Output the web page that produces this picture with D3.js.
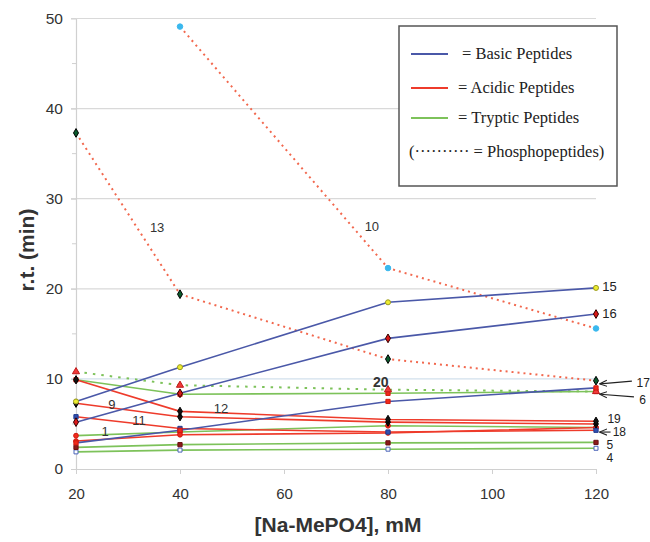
<!DOCTYPE html>
<html>
<head>
<meta charset="utf-8">
<script src="https://cdn.jsdelivr.net/npm/d3@7"></script>
<style>
  body { margin: 0; background: #fff; }
  svg { display: block; }
</style>
</head>
<body>
<div id="chart"></div>
<script>
// sodium methylphosphonate concentrations (mM)
const concentrations = [20, 40, 80, 120];

// retention times (min), basic peptides
const basic15 = [7.5, 11.3, 18.5, 20.1];
const basic16 = [5.2, 8.4, 14.5, 17.2];
const basic1 = [2.9, 4.3, 7.5, 9.0];

// acidic peptides
const acidic12 = [9.9, 6.4, 5.5, 5.3];
const acidic9 = [7.3, 5.8, 5.2, 5.0];
const acidic11 = [5.8, 4.5, 4.1, 4.3];
const acidic18 = [3.1, 3.8, 4.0, 4.6];
const phospho13 = [37.3, 19.4, 12.2, 9.8];
const phospho10 = [null, 49.1, 22.3, 15.6];

// tryptic peptides
const tryptic6 = [9.9, 8.3, 8.4, 8.6];
const phospho20 = [10.8, 9.3, 8.8, 8.6];
const tryptic3 = [3.7, 4.1, 4.8, 4.6];
const tryptic5 = [2.4, 2.7, 2.9, 2.95];
const tryptic4 = [1.9, 2.1, 2.2, 2.3];

const yTicks = [0, 10, 20, 30, 40, 50];
const xTicks = [20, 40, 60, 80, 100, 120];

// peptide numbers written in the plot, [x, y] in data units
const midLabels = ["13", "10", "20", "9", "11", "1", "12"];
const midLabelAt = [[35.6, 26.8], [76.9, 26.9], [78.6, 9.65], [26.9, 7.2], [32.1, 5.4], [25.6, 4.2], [47.9, 6.75]];
const endLabels = ["15", "16", "19", "5", "4"];
const endLabelAt = [[121.2, 20.3], [121.2, 17.3], [122.2, 5.55], [122.0, 2.65], [122.0, 1.2]];
const arrowLabels = ["17", "6", "18"];
const arrowFrom = [[126.9, 9.75], [127.3, 8.0], [122.8, 4.1]];
const arrowTo = [[120.8, 9.45], [120.8, 8.3], [120.8, 4.1]];
const arrowTextAt = [[127.8, 9.6], [128.3, 7.65], [123.2, 4.1]];

const legendNames = ["= Basic Peptides", "= Acidic Peptides", "= Tryptic Peptides"];

const BLUE = "#4a58a8", RED = "#ee3b2b", GREEN = "#7dc25a";
const RED_DOT = "#f2684e";

const series = [
  { v: tryptic4, color: GREEN, marker: "sqOpen" },
  { v: tryptic5, color: GREEN, marker: "sqDark" },
  { v: tryptic3, color: GREEN, marker: "circRed" },
  { v: tryptic6, color: GREEN, marker: "sqRed" },
  { v: phospho20, color: GREEN, dash: "2.5,6", marker: "tri" },
  { v: acidic18, color: RED, marker: "circRed" },
  { v: acidic11, color: RED, marker: "sqBlue" },
  { v: acidic9, color: RED, marker: "diaBlack" },
  { v: acidic12, color: RED, marker: "diaBlack" },
  { v: phospho13, color: RED_DOT, dash: "2,4", marker: "diaGreen" },
  { v: phospho10, color: RED_DOT, dash: "2,4", marker: "cyan" },
  { v: basic1, color: BLUE, marker: "sqRed" },
  { v: basic16, color: BLUE, marker: "diaRed" },
  { v: basic15, color: BLUE, marker: "yellow" }
];

const width = 650, height = 542;
const svg = d3.select("#chart").append("svg")
  .attr("width", width).attr("height", height)
  .style("font-family", "'Liberation Sans', Arial, sans-serif");

const x = d3.scaleLinear().domain([20, 120]).range([76, 596]);
const y = d3.scaleLinear().domain([0, 50]).range([469, 18.5]);

// grid
svg.append("g").selectAll("line").data(yTicks.filter(d => d > 0)).enter().append("line")
  .attr("x1", x(20) - 5).attr("x2", x(120))
  .attr("y1", d => y(d)).attr("y2", d => y(d))
  .attr("stroke", d => d === 10 ? "#d2e0ec" : "#d9d9d9").attr("stroke-width", 1.2);

// minor ticks
svg.append("g").selectAll("line").data([5, 15, 25, 35, 45]).enter().append("line")
  .attr("x1", x(20) - 4).attr("x2", x(20))
  .attr("y1", d => y(d)).attr("y2", d => y(d))
  .attr("stroke", "#d0d0d0");

const yAxis = svg.append("g").attr("transform", `translate(${x(20)},0)`)
  .call(d3.axisLeft(y).tickValues(yTicks).tickSize(5).tickSizeOuter(0).tickPadding(8));
yAxis.select(".domain").attr("stroke", "#d0d0d0").attr("stroke-width", 1.2);
yAxis.selectAll(".tick line").attr("stroke", "#d0d0d0");
yAxis.selectAll("text").attr("font-size", 15.5).attr("fill", "#333");

const xAxis = svg.append("g").attr("transform", `translate(0,${y(0)})`)
  .call(d3.axisBottom(x).tickValues(xTicks).tickSize(5).tickSizeOuter(0).tickPadding(14));
xAxis.select(".domain").attr("stroke", "#d0d0d0").attr("stroke-width", 1.2);
xAxis.selectAll(".tick line").attr("stroke", "#d0d0d0");
xAxis.selectAll("text").attr("font-size", 15).attr("fill", "#333");

// axis titles
svg.append("text").attr("x", 338).attr("y", 532).attr("text-anchor", "middle")
  .attr("font-size", 21).attr("font-weight", "bold").attr("fill", "#333")
  .text("[Na-MePO4], mM");
svg.append("text").attr("transform", "translate(34,250) rotate(-90)").attr("text-anchor", "middle")
  .attr("font-size", 21).attr("font-weight", "bold").attr("fill", "#333")
  .text("r.t. (min)");

// lines
const line = d3.line()
  .defined(d => d[1] != null)
  .x(d => x(d[0])).y(d => y(d[1]));

svg.append("g").selectAll("path").data(series).enter().append("path")
  .attr("d", s => line(concentrations.map((c, i) => [c, s.v[i]])))
  .attr("fill", "none")
  .attr("stroke", s => s.color)
  .attr("stroke-width", s => s.dash ? 2 : 1.6)
  .attr("stroke-dasharray", s => s.dash || null);

// markers
const markerStyle = {
  sqOpen: { type: d3.symbolSquare, size: 16, fill: "#fff", stroke: "#4a64b8" },
  sqDark: { type: d3.symbolSquare, size: 18, fill: "#8a1a1a", stroke: "#6a1010" },
  sqRed: { type: d3.symbolSquare, size: 18, fill: "#f02a1a", stroke: "#d01a10" },
  sqBlue: { type: d3.symbolSquare, size: 18, fill: "#3050b0", stroke: "#203a90" },
  circRed: { type: d3.symbolCircle, size: 18, fill: "#f02a1a", stroke: "#d01a10" },
  tri: { type: d3.symbolTriangle, size: 22, fill: "#f03a3a", stroke: "#c01a1a" },
  diaBlack: { type: d3.symbolDiamond, size: 20, fill: "#111", stroke: "#000" },
  diaGreen: { type: d3.symbolDiamond, size: 22, fill: "#0b5a2c", stroke: "#000" },
  diaRed: { type: d3.symbolDiamond, size: 22, fill: "#d81818", stroke: "#300" },
  cyan: { type: d3.symbolCircle, size: 24, fill: "#3ab8ee", stroke: "#3ab8ee" },
  yellow: { type: d3.symbolCircle, size: 20, fill: "#ecec30", stroke: "#9a9a20" }
};

const points = [];
series.forEach(s => concentrations.forEach((c, i) => {
  if (s.v[i] != null) points.push({ c: c, r: s.v[i], m: markerStyle[s.marker] });
}));

svg.append("g").selectAll("path").data(points).enter().append("path")
  .attr("transform", d => `translate(${x(d.c)},${y(d.r)})`)
  .attr("d", d => d3.symbol().type(d.m.type).size(d.m.size)())
  .attr("fill", d => d.m.fill).attr("stroke", d => d.m.stroke).attr("stroke-width", 1);

// peptide numbers
const labelFont = 12;
svg.append("g").selectAll("text").data(midLabels).enter().append("text")
  .attr("x", (d, i) => x(midLabelAt[i][0])).attr("y", (d, i) => y(midLabelAt[i][1]))
  .attr("dy", "0.35em").attr("text-anchor", "middle")
  .attr("font-size", d => d === "20" ? 14 : 13)
  .attr("font-weight", d => d === "20" ? "bold" : null)
  .attr("fill", "#333").text(d => d);

svg.append("g").selectAll("text").data(endLabels).enter().append("text")
  .attr("x", (d, i) => x(endLabelAt[i][0])).attr("y", (d, i) => y(endLabelAt[i][1]))
  .attr("dy", "0.35em").attr("font-size", d => (d === "15" || d === "16") ? 13 : labelFont)
  .attr("fill", "#222").text(d => d);

svg.append("defs").append("marker").attr("id", "ah")
  .attr("viewBox", "0 0 10 10").attr("refX", 9).attr("refY", 5)
  .attr("markerWidth", 7).attr("markerHeight", 7).attr("orient", "auto")
  .append("path").attr("d", "M0,1 L10,5 L0,9").attr("fill", "none").attr("stroke", "#222").attr("stroke-width", 1.4);

svg.append("g").selectAll("line").data(arrowLabels).enter().append("line")
  .attr("x1", (d, i) => x(arrowFrom[i][0])).attr("y1", (d, i) => y(arrowFrom[i][1]))
  .attr("x2", (d, i) => x(arrowTo[i][0])).attr("y2", (d, i) => y(arrowTo[i][1]))
  .attr("stroke", "#222").attr("stroke-width", 1.1).attr("marker-end", "url(#ah)");

svg.append("g").selectAll("text").data(arrowLabels).enter().append("text")
  .attr("x", (d, i) => x(arrowTextAt[i][0])).attr("y", (d, i) => y(arrowTextAt[i][1]))
  .attr("dy", "0.35em").attr("font-size", labelFont).attr("fill", "#222").text(d => d);

// legend
const lg = svg.append("g").attr("transform", "translate(399,26)")
  .style("font-family", "'Liberation Serif', 'Times New Roman', serif");
lg.append("rect").attr("width", 218).attr("height", 160)
  .attr("fill", "#fff").attr("stroke", "#555").attr("stroke-width", 1.5);
const legendColors = [BLUE, RED, GREEN];
const legendRows = [28, 62, 92];
legendNames.forEach((name, i) => {
  lg.append("line").attr("x1", 12).attr("x2", 49)
    .attr("y1", legendRows[i]).attr("y2", legendRows[i])
    .attr("stroke", legendColors[i]).attr("stroke-width", 2);
  lg.append("text").attr("x", i === 0 ? 63 : 59).attr("y", legendRows[i] + 5)
    .attr("font-size", 16.5).attr("fill", "#222").text(name);
});
lg.append("text").attr("x", 10).attr("y", 131).attr("font-size", 16.5).attr("fill", "#222")
  .text("(\u00b7\u00b7\u00b7\u00b7\u00b7\u00b7\u00b7\u00b7\u00b7\u00b7 = Phosphopeptides)");
</script>
</body>
</html>
